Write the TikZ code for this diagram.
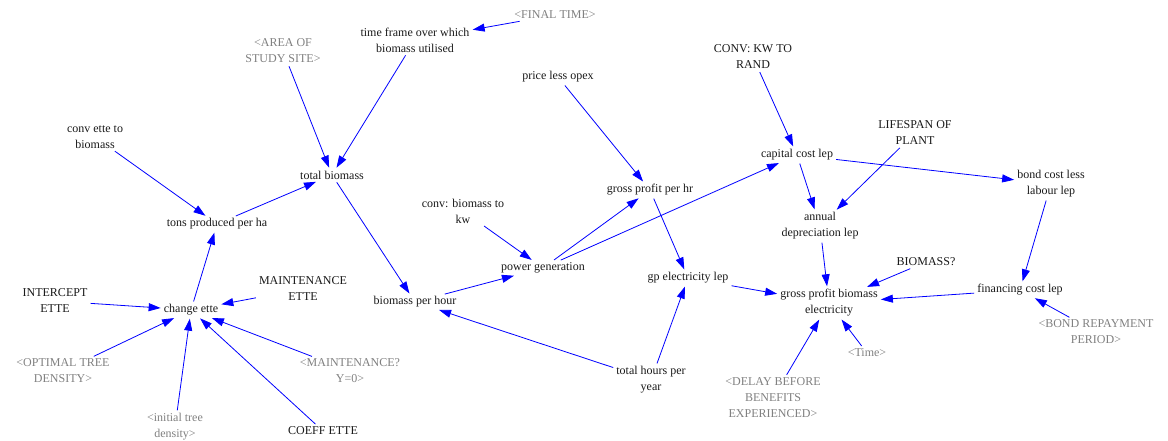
\documentclass[tikz,border=0pt]{standalone}
\usepackage{fontspec}
\setmainfont{Liberation Serif}
\usetikzlibrary{arrows.meta}
\definecolor{linkblue}{RGB}{0,0,255}
\definecolor{shadowgray}{RGB}{128,128,128}
\begin{document}
\begin{tikzpicture}[x=1pt,y=-1pt,
  var/.style={font=\fontsize{12}{16}\selectfont, align=center, inner sep=2pt, text=black!90},
  shadow/.style={var, text=shadowgray},
  link/.style={draw=linkblue, line width=0.8pt, -{Triangle[length=12pt,width=8pt]}, shorten <=1pt, shorten >=1pt}]
\useasboundingbox (0,0) rectangle (1168,440);

% variables
\node[var] (tf) at (415,40) {time frame over which\\biomass utilised};
\node[shadow] (ft) at (555,15) {<FINAL TIME>};
\node[shadow] (area) at (283,51) {<AREA OF\\STUDY SITE>};
\node[var] (cetb) at (95,137) {conv ette to\\biomass};
\node[var] (tb) at (332,175) {total biomass};
\node[var] (tph) at (217,224) {tons produced per ha};
\node[var] (ie) at (55,301) {INTERCEPT\\ETTE};
\node[var] (ce) at (191,310) {change ette};
\node[var] (me) at (303,289) {MAINTENANCE\\ETTE};
\node[shadow] (otd) at (63,371) {<OPTIMAL TREE\\DENSITY>};
\node[shadow] (itd) at (175,427) {<initial tree\\density>};
\node[shadow] (mq) at (350,371) {<MAINTENANCE?\\Y=0>};
\node[var] (coe) at (323,431) {COEFF ETTE};
\node[var] (bph) at (415,302) {biomass per hour};
\node[var] (cbk) at (463,211) {conv: biomass to\\kw};
\node[var] (pg) at (543,268) {power generation};
\node[var] (plo) at (558,77) {price less opex};
\node[var] (gph) at (650,190) {gross profit per hr};
\node[var] (gpe) at (688,278) {gp electricity lep};
\node[var] (thy) at (651,380) {total hours per\\year};
\node[var] (ckr) at (753,57) {CONV: KW TO\\RAND};
\node[var] (ccl) at (797,155) {capital cost lep};
\node[var] (lop) at (915,133) {LIFESPAN OF\\PLANT};
\node[var] (bcl) at (1051,184) {bond cost less\\labour lep};
\node[var] (adl) at (820,226) {annual\\depreciation lep};
\node[var] (bmq) at (926,262) {BIOMASS?};
\node[var] (gpbe) at (829,303) {gross profit biomass\\electricity};
\node[var] (fcl) at (1020,290) {financing cost lep};
\node[shadow] (brp) at (1096,332) {<BOND REPAYMENT\\PERIOD>};
\node[shadow] (tim) at (867,353) {<Time>};
\node[shadow] (dbb) at (773,398) {<DELAY BEFORE\\BENEFITS\\EXPERIENCED>};

% causal links
\draw[link] (ft) -- (tf);
\draw[link] (area) -- (tb);
\draw[link] (tf) -- (tb);
\draw[link] (cetb) -- (tph);
\draw[link] (tph) -- (tb);
\draw[link] (tb) -- (bph);
\draw[link] (ce) -- (tph);
\draw[link] (ie) -- (ce);
\draw[link] (me) -- (ce);
\draw[link] (otd) -- (ce);
\draw[link] (itd) -- (ce);
\draw[link] (coe) -- (ce);
\draw[link] (mq) -- (ce);
\draw[link] (bph) -- (pg);
\draw[link] (thy) -- (bph);
\draw[link] (cbk) -- (pg);
\draw[link] (pg) -- (gph);
\draw[link] (pg) -- (ccl);
\draw[link] (plo) -- (gph);
\draw[link] (gph) -- (gpe);
\draw[link] (thy) -- (gpe);
\draw[link] (gpe) -- (gpbe);
\draw[link] (ckr) -- (ccl);
\draw[link] (ccl) -- (adl);
\draw[link] (lop) -- (adl);
\draw[link] (ccl) -- (bcl);
\draw[link] (bcl) -- (fcl);
\draw[link] (adl) -- (gpbe);
\draw[link] (bmq) -- (gpbe);
\draw[link] (fcl) -- (gpbe);
\draw[link] (brp) -- (fcl);
\draw[link] (tim) -- (gpbe);
\draw[link] (dbb) -- (gpbe);
\end{tikzpicture}
\end{document}
